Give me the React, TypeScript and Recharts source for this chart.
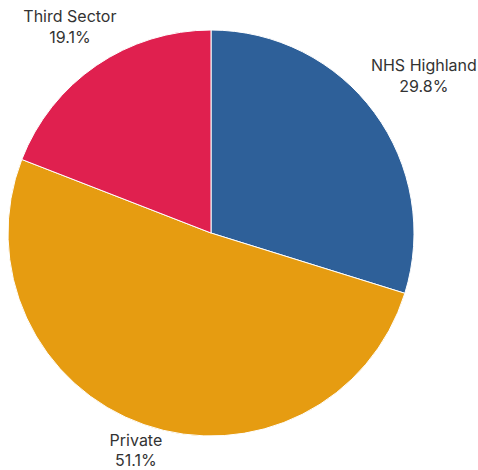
import React from "react";
import { PieChart, Pie, Cell } from "recharts";

const categories = ["NHS Highland", "Private", "Third Sector"];
const shares = [29.8, 51.1, 19.1];
const colors = ["#2E6099", "#E69C11", "#E0204F"];

const data = categories.map((name, i) => ({ name, value: shares[i] }));

const RAD = Math.PI / 180;
const CHART_H = 470;

const renderLabel = (props: any) => {
  const { cx, cy, midAngle, outerRadius, index } = props;
  const name = categories[index];
  const pct = shares[index].toFixed(1) + "%";
  const cos = Math.cos(-midAngle * RAD);
  const sin = Math.sin(-midAngle * RAD);
  const chars = Math.max(name.length, pct.length);
  const d = outerRadius + 13 + chars * 5 * Math.abs(cos);
  const x = cx + d * cos;
  const y = cy + d * sin;
  let b1 = y - 5;
  let b2 = y + 16;
  if (sin > 0.85) {
    // label near the bottom edge: sit it on the chart's bottom
    b2 = CHART_H - 4;
    b1 = b2 - 20;
  }
  const common = {
    x,
    textAnchor: "middle" as const,
    fill: "#333333",
    fontSize: 16,
    fontFamily: "Inter, 'Noto Sans', sans-serif",
  };
  return (
    <g>
      <text {...common} y={b1}>{name}</text>
      <text {...common} y={b2}>{pct}</text>
    </g>
  );
};

export default function App() {
  return (
    <div style={{ position: "absolute", left: 0, top: 0, width: 478, height: 470, background: "#fff" }}>
      <PieChart width={478} height={470} margin={{ top: 0, right: 0, bottom: 0, left: 0 }}>
        <Pie
          data={data}
          dataKey="value"
          nameKey="name"
          cx={211}
          cy={233}
          outerRadius={203}
          startAngle={90}
          endAngle={-270}
          stroke="#ffffff"
          strokeWidth={1}
          label={renderLabel}
          labelLine={false}
          isAnimationActive={false}
        >
          {data.map((d, i) => (
            <Cell key={d.name} fill={colors[i]} />
          ))}
        </Pie>
      </PieChart>
    </div>
  );
}
